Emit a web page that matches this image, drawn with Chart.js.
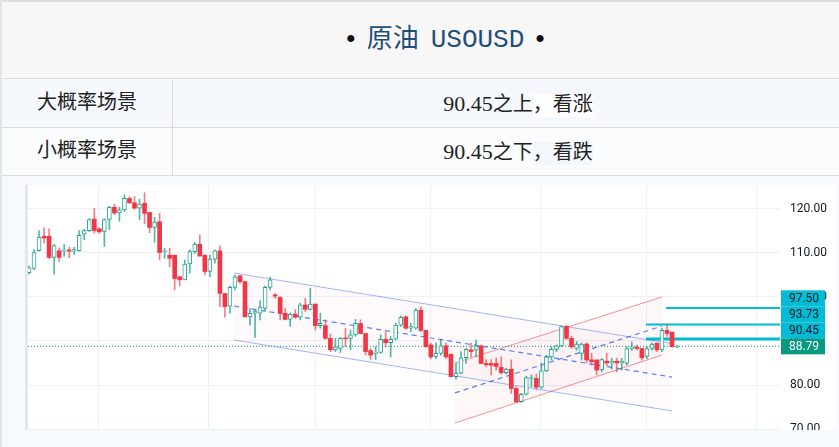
<!DOCTYPE html>
<html lang="zh-CN">
<head>
<meta charset="utf-8">
<title>原油 USOUSD</title>
<script src="https://cdn.jsdelivr.net/npm/chart.js@4.4.1/dist/chart.umd.min.js"></script>
<style>
  html, body { margin: 0; padding: 0; }
  body { width: 839px; height: 447px; overflow: hidden; background: #f6f9fd; font-family: "Liberation Mono", "Noto Sans CJK SC", monospace; }
  #page { position: relative; width: 839px; height: 447px; }
  .edge-top { position: absolute; left: 0; top: 0; width: 839px; height: 2px; background: #dedede; }
  .edge-left { position: absolute; left: 0; top: 0; width: 2px; height: 447px; background: #dde8de; }
  .head { position: absolute; left: 2px; top: 2px; width: 837px; height: 77px; background: #f7f7f7; border-bottom: 1px solid #dcdcdc; text-align: center; line-height: 77px; font-size: 26px; color: #1f4e79; box-sizing: border-box; padding-left: 50px; }
  .head .dot { color: #111; margin: 0 8px; }
  .head .sym { margin-left: 12px; }
  .row { position: absolute; left: 2px; width: 837px; height: 47px; border-bottom: 1px solid #dcdcdc; font-size: 20px; color: #222; line-height: 47px; }
  .row .k { position: absolute; left: 0; top: 0; width: 170px; height: 47px; border-right: 1px solid #dcdcdc; text-align: center; }
  .row .v { position: absolute; left: 171px; top: 0; right: 0; height: 47px; text-align: center; box-sizing: border-box; padding-left: 24px; }
  .row .num { font-family: "Liberation Serif", serif; font-size: 22px; }
  #r1 { top: 80px; background: #f5f9fe; }
  #r1 .hl { background: #ffffff; }
  #r2 { top: 128px; background: #fbfcfd; }
  #r2 .hl { background: #f3f7fd; }
  .panel { position: absolute; left: 25px; top: 185px; width: 808px; height: 245px; background: #fff; border-left: 3px solid #e3e6ee; overflow: hidden; }
  .panel .box { position: absolute; left: 0; top: 0; width: 808px; height: 265px; }
</style>
</head>
<body>
<div id="page">
  <div class="head"><span class="dot">•</span>原油<span class="sym">USOUSD</span><span class="dot">•</span></div>
  <div class="row" id="r1"><div class="k">大概率场景</div><div class="v"><span class="num">90.45</span>之上<span class="hl">，看涨</span></div></div>
  <div class="row" id="r2"><div class="k">小概率场景</div><div class="v"><span class="num">90.45</span>之下<span class="hl">，看跌</span></div></div>
  <div class="edge-top"></div>
  <div class="edge-left"></div>
  <div class="panel"><div class="box"><canvas id="oil"></canvas></div></div>
</div>
<script>
// K线数据（按根序号，从左到右）
const candleOpen = [
  105.5, 106.5, 110.5, 113.8, 113.8, 109.0, 110.5, 110.4, 110.7, 110.4,
  110.5, 114.3, 115.1, 117.7, 115.5, 114.9, 117.6, 120.4, 119.1, 119.8,
  122.4, 121.4, 120.2, 121.3, 119.2, 115.8, 117.1, 110.3, 109.5, 109.5,
  104.6, 103.9, 107.5, 110.3, 112.0, 109.5, 105.8, 108.6, 110.5, 100.8,
  97.9, 102.2, 104.8, 103.5, 95.5, 96.3, 96.3, 97.4, 102.2, 100.5,
  99.9, 96.3, 94.9, 96.1, 95.4, 98.2, 97.2, 98.4, 93.5, 93.5,
  90.6, 88.0, 88.3, 90.7, 90.6, 91.4, 94.0, 91.7, 87.8, 87.2,
  87.4, 90.4, 89.6, 90.4, 93.6, 95.5, 92.9, 92.9, 97.0, 92.4,
  89.1, 86.4, 87.2, 88.9, 87.0, 81.9, 82.7, 86.2, 88.0, 87.9,
  88.9, 84.9, 84.9, 84.9, 84.0, 82.8, 83.6, 79.2, 76.2, 77.9,
  81.5, 81.5, 79.5, 83.2, 86.4, 88.1, 88.9, 93.3, 90.6, 88.3,
  87.2, 89.3, 85.7, 85.7, 83.4, 85.4, 85.0, 85.4, 85.0, 84.9,
  88.3, 88.6, 88.3, 86.5, 88.3, 89.5, 88.0, 92.4, 92.0, 88.6
];
const candleHigh = [
  107.0, 110.8, 115.1, 115.7, 115.5, 111.9, 111.2, 111.9, 111.3, 111.3,
  115.1, 115.4, 117.8, 120.1, 115.7, 117.8, 120.6, 121.1, 120.4, 123.2,
  122.8, 122.8, 122.2, 123.7, 119.2, 118.1, 119.0, 111.1, 111.1, 109.5,
  104.6, 108.4, 110.7, 112.4, 114.1, 109.5, 109.5, 110.7, 111.6, 100.8,
  102.5, 105.0, 105.0, 103.5, 97.4, 97.0, 99.2, 102.5, 104.5, 100.8,
  100.1, 97.4, 96.4, 97.1, 98.6, 99.7, 102.0, 98.4, 96.3, 94.8,
  91.6, 90.6, 90.8, 92.9, 92.5, 94.9, 94.8, 91.7, 88.3, 88.7,
  91.4, 92.1, 91.0, 94.0, 95.7, 95.7, 94.0, 97.4, 97.8, 92.4,
  89.5, 89.6, 90.4, 89.5, 87.0, 84.9, 87.6, 88.3, 89.5, 90.2,
  89.1, 85.8, 85.8, 86.1, 86.4, 83.8, 85.7, 79.6, 78.1, 82.0,
  82.3, 82.5, 85.0, 86.8, 88.7, 89.1, 93.4, 93.6, 91.1, 89.9,
  89.6, 89.6, 87.2, 85.7, 86.0, 87.2, 86.1, 86.1, 86.1, 88.7,
  89.8, 89.1, 88.3, 88.7, 89.6, 89.6, 92.9, 93.6, 92.1, 89.0
];
const candleLow = [
  105.2, 106.2, 110.4, 112.3, 108.7, 105.2, 108.0, 109.2, 108.9, 109.6,
  110.4, 113.0, 114.9, 114.5, 114.5, 111.5, 115.3, 118.7, 117.2, 119.4,
  121.3, 119.9, 117.6, 116.7, 114.6, 112.4, 108.4, 108.8, 106.9, 101.6,
  102.5, 103.9, 105.4, 109.8, 109.3, 105.0, 104.6, 107.7, 97.8, 95.4,
  96.3, 101.6, 103.1, 95.5, 93.6, 90.8, 94.8, 96.9, 101.6, 99.7,
  94.8, 94.8, 93.3, 95.1, 94.8, 96.7, 97.0, 92.5, 92.9, 90.4,
  87.6, 87.6, 87.4, 88.7, 88.0, 91.1, 91.6, 86.8, 85.8, 85.8,
  87.2, 88.7, 86.4, 90.2, 93.3, 92.7, 92.1, 92.7, 92.1, 88.6,
  86.0, 86.0, 86.8, 86.0, 81.8, 81.3, 82.5, 84.9, 86.4, 86.4,
  84.8, 84.2, 82.3, 83.4, 82.5, 82.5, 78.1, 76.0, 76.0, 77.7,
  79.6, 79.0, 79.2, 83.0, 85.7, 87.6, 88.7, 90.4, 88.3, 87.9,
  85.7, 85.1, 84.5, 82.3, 83.0, 84.4, 83.6, 83.0, 83.4, 84.5,
  87.9, 87.9, 85.7, 86.0, 87.9, 87.6, 87.6, 91.0, 88.6, 88.5
];
const candleClose = [
  106.6, 110.1, 113.6, 113.4, 109.0, 111.7, 109.0, 110.7, 110.4, 110.8,
  114.0, 115.1, 117.6, 115.1, 114.8, 117.6, 120.4, 119.1, 119.8, 122.4,
  121.4, 120.2, 121.1, 119.0, 115.8, 117.1, 110.1, 110.5, 108.8, 104.2,
  103.9, 107.5, 110.3, 112.0, 109.3, 105.8, 108.6, 110.5, 100.8, 97.8,
  102.2, 104.6, 103.5, 95.5, 96.3, 96.8, 97.7, 102.2, 103.9, 100.2,
  96.3, 94.9, 96.1, 95.4, 98.2, 97.2, 98.4, 93.5, 94.0, 90.6,
  88.0, 88.7, 90.6, 90.5, 91.4, 94.0, 91.7, 87.6, 86.8, 87.5,
  90.4, 89.6, 90.4, 93.6, 95.4, 92.9, 93.3, 97.0, 92.4, 88.7,
  86.4, 87.2, 88.9, 86.4, 81.9, 82.7, 86.2, 88.1, 87.6, 88.9,
  84.9, 84.6, 84.5, 84.2, 82.8, 83.6, 79.2, 76.2, 77.9, 81.7,
  81.7, 79.5, 83.2, 86.4, 88.1, 88.9, 93.3, 90.6, 88.7, 89.3,
  89.3, 85.7, 85.3, 83.4, 85.8, 85.0, 85.4, 85.0, 85.4, 88.3,
  88.7, 88.3, 86.2, 88.3, 89.3, 88.0, 92.4, 91.7, 88.7, 88.79
];

// 价格轴刻度、竖向网格位置
const yTicks = [70, 80, 90, 100, 110, 120];
const gridX = [13.9, 35.8, 57.1, 80, 101.9, 123, 144.9];
const xRange = [-0.2, 149.5];
const yRange = [65.23, 125.45];

// 关键价位
const lastPrice = 88.79;
const levels = [97.50, 93.73, 90.45];
const levelFrom = [126.8, 122.8, 122.8];

// 通道线：[起点序号, 起点价格, 终点序号, 终点价格]
const downUpper = [40.8, 105.45, 128.0, 89.4];
const downLower = [40.8, 90.23, 128.0, 74.1];
const downMid = [40.8, 97.95, 128.0, 81.8];
const upUpper = [84.8, 85.0, 126.0, 100.0];
const upLower = [84.8, 71.36, 126.0, 86.8];
const upMid = [84.8, 78.2, 126.0, 93.4];

const UP = '#089981';
const DOWN = '#f23645';
const CYAN = '#00bcd4';

function seg(s) {
  return [{ x: s[0], y: s[1] }, { x: s[2], y: s[3] }];
}

function lineSet(data, color, extra) {
  return Object.assign({
    type: 'line',
    data: data,
    borderColor: color,
    borderWidth: 1,
    pointRadius: 0,
    fill: false,
    tension: 0,
    order: 5
  }, extra || {});
}

const isUp = candleClose.map(function (c, i) { return c >= candleOpen[i]; });

const bodies = candleOpen.map(function (o, i) { return { x: i, y: [o, candleClose[i]] }; });
const wicks = candleLow.map(function (l, i) { return { x: i, y: [l, candleHigh[i]] }; });

const datasets = [
  lineSet(seg(downUpper), 'rgba(41,98,255,0.45)'),
  lineSet(seg(downLower), 'rgba(41,98,255,0.45)', { fill: '-1', backgroundColor: 'rgba(233,30,99,0.025)' }),
  lineSet(seg(downMid), 'rgba(41,98,255,0.8)', { borderDash: [5, 4], borderWidth: 1.2 }),
  lineSet(seg(upUpper), 'rgba(242,54,69,0.55)'),
  lineSet(seg(upLower), 'rgba(242,54,69,0.55)', { fill: '-1', backgroundColor: 'rgba(242,54,69,0.04)' }),
  lineSet(seg(upMid), 'rgba(41,98,255,0.8)', { borderDash: [5, 4], borderWidth: 1.2 })
];

levels.forEach(function (v, i) {
  datasets.push(lineSet([{ x: levelFrom[i], y: v }, { x: xRange[1], y: v }], CYAN, { borderWidth: i === 2 ? 3 : 2, order: 4 }));
});

datasets.push(lineSet([{ x: xRange[0], y: lastPrice }, { x: xRange[1], y: lastPrice }], UP, { borderDash: [1, 2], order: 4 }));

datasets.push({
  type: 'bar',
  data: wicks,
  backgroundColor: isUp.map(function (u) { return u ? 'rgba(8,153,129,0.7)' : 'rgba(242,54,69,0.65)'; }),
  borderWidth: 0,
  grouped: false,
  maxBarThickness: 1,
  barPercentage: 1,
  categoryPercentage: 1,
  order: 2
});

datasets.push({
  type: 'bar',
  data: bodies,
  backgroundColor: isUp.map(function (u) { return u ? '#ffffff' : DOWN; }),
  borderColor: isUp.map(function (u) { return u ? 'rgba(8,153,129,0.85)' : DOWN; }),
  borderWidth: isUp.map(function (u) { return u ? 1 : 0; }),
  borderSkipped: false,
  grouped: false,
  maxBarThickness: 4,
  barPercentage: 1,
  categoryPercentage: 1,
  order: 1
});

// 右侧价格标签（重叠时向上堆叠）
const priceTags = {
  id: 'priceTags',
  afterDraw: function (chart) {
    const ctx = chart.ctx;
    const area = chart.chartArea;
    const ys = chart.scales.y;
    const tags = [{ v: lastPrice, bg: UP, fg: '#ffffff' }];
    levels.slice().sort(function (a, b) { return a - b; }).forEach(function (v) {
      tags.push({ v: v, bg: CYAN, fg: '#131722' });
    });
    let prev = null;
    ctx.save();
    ctx.font = '12px Roboto, sans-serif';
    ctx.textAlign = 'center';
    ctx.textBaseline = 'middle';
    tags.forEach(function (t) {
      let cy = ys.getPixelForValue(t.v);
      if (prev !== null) cy = Math.min(cy, prev - 16);
      prev = cy;
      ctx.fillStyle = t.bg;
      ctx.fillRect(area.right + 1, cy - 8, 44, 16);
      ctx.fillStyle = t.fg;
      ctx.fillText(t.v.toFixed(2), area.right + 24, cy + 0.5);
    });
    ctx.restore();
  }
};

new Chart(document.getElementById('oil'), {
  type: 'bar',
  data: { datasets: datasets },
  plugins: [priceTags],
  options: {
    responsive: true,
    maintainAspectRatio: false,
    animation: false,
    devicePixelRatio: 1,
    layout: { padding: 0 },
    plugins: { legend: { display: false }, tooltip: { enabled: false } },
    scales: {
      x: {
        type: 'linear',
        offset: false,
        min: xRange[0],
        max: xRange[1],
        afterBuildTicks: function (s) { s.ticks = gridX.map(function (v) { return { value: v }; }); },
        afterFit: function (s) { s.height = 0; s.paddingLeft = 0; s.paddingRight = 0; },
        ticks: { display: false },
        grid: { color: '#eff1f5', drawTicks: false, offset: false },
        border: { display: false }
      },
      y: {
        position: 'right',
        min: yRange[0],
        max: yRange[1],
        afterBuildTicks: function (s) { s.ticks = yTicks.map(function (v) { return { value: v }; }); },
        afterFit: function (s) { s.width = 56; s.paddingTop = 0; s.paddingBottom = 0; },
        ticks: {
          padding: 10,
          color: '#131722',
          font: { family: 'Roboto', size: 12 },
          callback: function (v) { return Number(v).toFixed(2); }
        },
        grid: { color: '#eff1f5', drawTicks: false },
        border: { display: false }
      }
    }
  }
});
</script>
</body>
</html>
